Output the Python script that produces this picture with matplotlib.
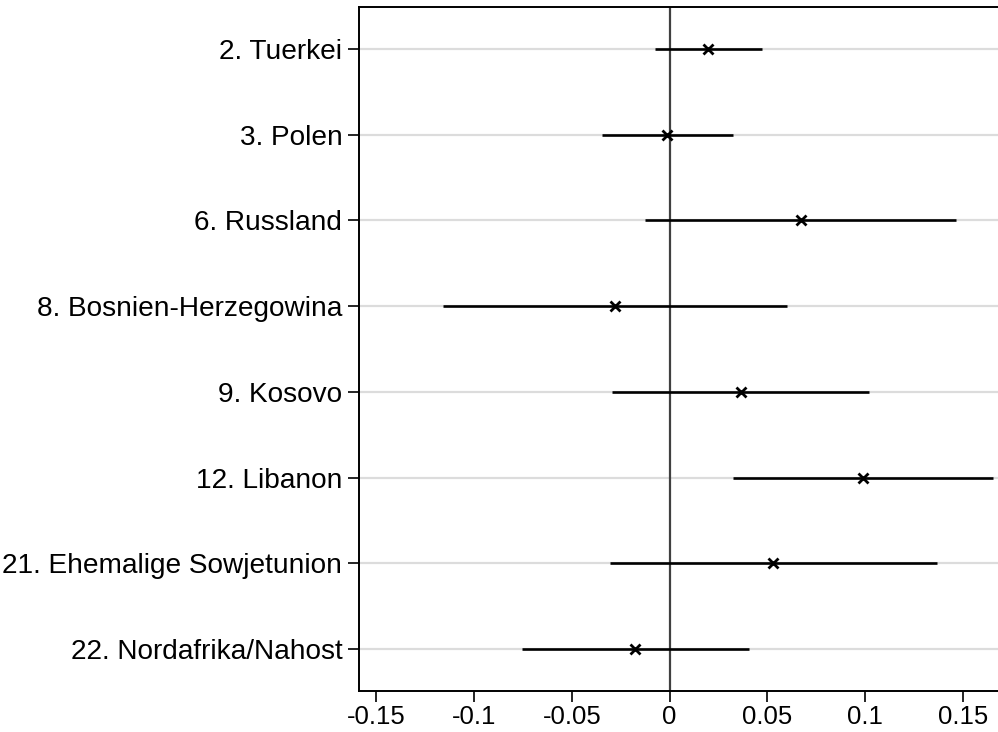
import numpy as np
import matplotlib
matplotlib.use('Agg')
from matplotlib import pyplot as plt

plt.rcParams['font.family'] = ['Liberation Sans', 'DejaVu Sans']

# coefficient estimates and confidence bounds
labels = ['2. Tuerkei', '3. Polen', '6. Russland', '8. Bosnien-Herzegowina',
          '9. Kosovo', '12. Libanon', '21. Ehemalige Sowjetunion',
          '22. Nordafrika/Nahost']
coef = [0.0197, -0.0013, 0.0671, -0.0279, 0.0366, 0.0990, 0.0530, -0.0177]
lower = [-0.0074, -0.0345, -0.0125, -0.1158, -0.0296, 0.0325, -0.0304, -0.0756]
upper = [0.0473, 0.0325, 0.1466, 0.0601, 0.1023, 0.1656, 0.1371, 0.0408]
xticks = [-0.15, -0.1, -0.05, 0, 0.05, 0.1, 0.15]
xticklabels = ['-0.15', '-0.1', '-0.05', '0', '0.05', '0.1', '0.15']

fig = plt.figure(figsize=(9.98, 7.32), dpi=100)
ax = fig.add_axes([0.3597, 0.056, 0.6403, 0.9344])

ypos = np.arange(1, len(labels) + 1)

# light horizontal grid lines at each category
for y in ypos:
    ax.axhline(y, color='#dcdcdc', lw=1.6, zorder=0)

# reference line at zero
ax.axvline(0, color='#404040', lw=1.6, zorder=1)

# confidence intervals and point estimates
ax.hlines(ypos, lower, upper, color='black', lw=1.9, zorder=2)
ax.plot(coef, ypos, 'x', color='black', ms=6.5, mew=2, zorder=3)

ax.set_xlim(-0.1589, 0.1681)
ax.set_ylim(8.49, 0.51)
ax.set_yticks(ypos)
ax.set_yticklabels(labels, fontsize=20.2)
ax.set_xticks(xticks)
ax.set_xticklabels(xticklabels, fontsize=18.5)

ax.spines['right'].set_visible(False)
for s in ['left', 'top', 'bottom']:
    ax.spines[s].set_linewidth(1.4)
ax.tick_params(axis='y', length=8, width=1.2, pad=4)
ax.tick_params(axis='x', length=8, width=1.2, pad=2)

fig.savefig('out.png', dpi=100)
